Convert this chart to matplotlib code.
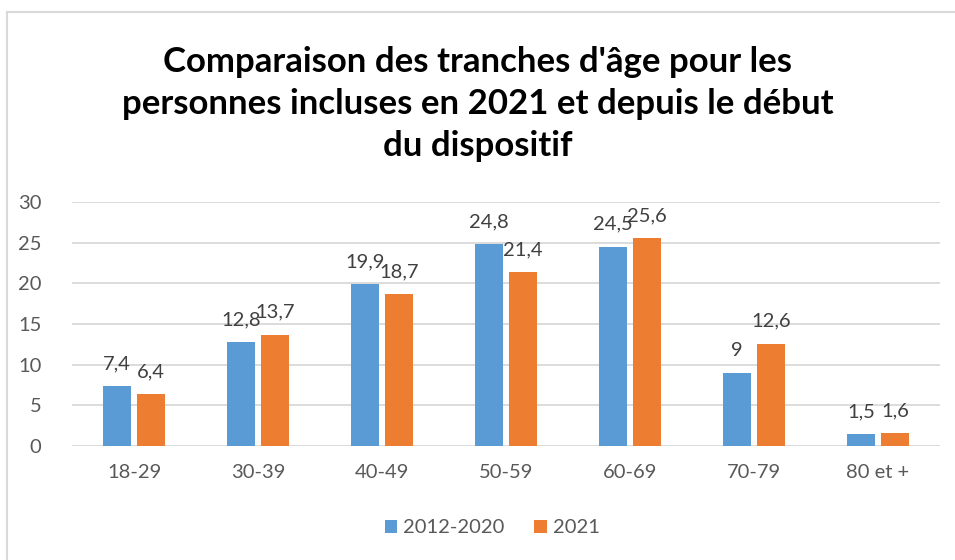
import matplotlib.pyplot as plt
from matplotlib.lines import Line2D
import numpy as np

categories = ['18-29', '30-39', '40-49', '50-59', '60-69', '70-79', '80 et +']
serie_2012_2020 = [7.4, 12.8, 19.9, 24.8, 24.5, 9, 1.5]
serie_2021 = [6.4, 13.7, 18.7, 21.4, 25.6, 12.6, 1.6]
series_names = ['2012-2020', '2021']
yticks = [0, 5, 10, 15, 20, 25, 30]

blue = '#5B9BD5'
orange = '#ED7D31'
grey_txt = '#595959'
grid_col = '#D9D9D9'

plt.rcParams['font.family'] = ['Lato', 'DejaVu Sans']

fig = plt.figure(figsize=(9.55, 5.6), dpi=100)
ax = fig.add_axes([72 / 955, 114 / 560, 868 / 955, 244 / 560])

x = np.arange(len(categories))
w = 0.226
gap = 0.05
b1 = ax.bar(x - w / 2 - gap / 2, serie_2012_2020, w, color=blue, label=series_names[0], zorder=3)
b2 = ax.bar(x + w / 2 + gap / 2, serie_2021, w, color=orange, label=series_names[1], zorder=3)

def fmt(v):
    s = ('%g' % v).replace('.', ',')
    return s

for bars, vals in ((b1, serie_2012_2020), (b2, serie_2021)):
    for rect, v in zip(bars, vals):
        ax.annotate(fmt(v), (rect.get_x() + rect.get_width() / 2, v),
                    xytext=(0, 10), textcoords='offset points',
                    ha='center', va='bottom', fontsize=14.5, color='#404040')

ax.set_xlim(-0.5, len(categories) - 0.5)
ax.set_ylim(0, 30)
ax.set_yticks(yticks)
ax.set_xticks(x)
ax.set_xticklabels(categories)
ax.tick_params(axis='both', length=0, labelsize=14.5, colors=grey_txt)
ax.tick_params(axis='x', pad=13)
ax.tick_params(axis='y', pad=22)
ax.grid(axis='y', color=grid_col, linewidth=1.3, zorder=0)
for s in ax.spines.values():
    s.set_visible(False)

fig.text(0.5, 1 - 104 / 560, "Comparaison des tranches d'âge pour les\npersonnes incluses en 2021 et depuis le début\ndu dispositif",
         ha='center', va='center', fontsize=25, fontweight='bold', color='black', linespacing=1.4)

ax.legend(loc='center', bbox_to_anchor=(0.484, -0.335), ncol=2, frameon=False,
          fontsize=14.5, labelcolor=grey_txt, handlelength=0.6, handleheight=0.6,
          handletextpad=0.3, columnspacing=1.5)

# chart frame (left and top only)
fig.add_artist(Line2D([7 / 955, 7 / 955], [0, 1 - 12 / 560], transform=fig.transFigure, color=grid_col, linewidth=1.5))
fig.add_artist(Line2D([7 / 955, 1], [1 - 12 / 560, 1 - 12 / 560], transform=fig.transFigure, color=grid_col, linewidth=1.5))

fig.savefig('out.png', dpi=100)
